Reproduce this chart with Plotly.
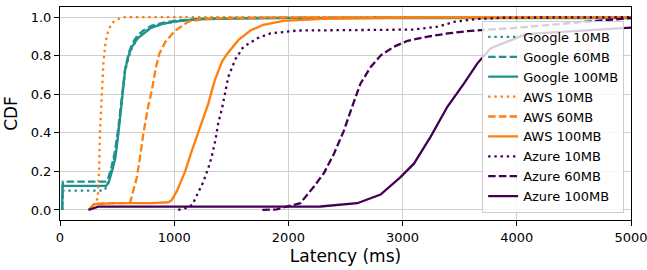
import plotly.graph_objects as go

# ---- data (latency in ms, CDF) ----
google_10_x = [20, 25, 100, 200, 300, 386, 420, 450, 480, 510, 540, 570, 600, 630, 680, 730, 800, 900, 1000, 1200, 1500, 2000, 3000, 5000]
google_10_y = [0, 0.10, 0.10, 0.10, 0.10, 0.10, 0.13, 0.20, 0.28, 0.40, 0.57, 0.72, 0.79, 0.84, 0.89, 0.92, 0.945, 0.965, 0.975, 0.99, 0.995, 0.997, 0.998, 0.998]

google_60_x = [20, 25, 400, 420, 450, 480, 510, 540, 570, 600, 630, 680, 730, 800, 900, 1000, 1200, 1500, 2000, 5000]
google_60_y = [0, 0.147, 0.147, 0.16, 0.22, 0.30, 0.42, 0.58, 0.73, 0.81, 0.86, 0.905, 0.93, 0.955, 0.97, 0.98, 0.99, 0.994, 0.996, 0.997]

google_100_x = [18, 22, 405, 430, 460, 485, 512, 541, 570, 600, 630, 680, 730, 800, 900, 1000, 1200, 1500, 2000, 5000]
google_100_y = [0, 0.125, 0.125, 0.15, 0.21, 0.27, 0.40, 0.57, 0.725, 0.80, 0.845, 0.89, 0.915, 0.945, 0.965, 0.976, 0.988, 0.992, 0.994, 0.995]

aws_10_x = [250, 300, 330, 342, 350, 358, 366, 380, 395, 409, 430, 453, 480, 512, 570, 5000]
aws_10_y = [0, 0.03, 0.06, 0.20, 0.40, 0.52, 0.60, 0.76, 0.85, 0.90, 0.94, 0.967, 0.98, 0.99, 1.0, 1.0]

aws_60_x = [250, 300, 400, 500, 600, 615, 643, 673, 700, 731, 770, 804, 840, 870, 921, 1009, 1125, 1272, 1500, 2000, 3000, 5000]
aws_60_y = [0, 0.03, 0.035, 0.035, 0.035, 0.04, 0.10, 0.17, 0.27, 0.40, 0.53, 0.62, 0.74, 0.81, 0.87, 0.93, 0.976, 0.99, 0.995, 0.998, 0.999, 1.0]

aws_100_x = [250, 300, 500, 800, 950, 980, 1025, 1096, 1150, 1210, 1250, 1298, 1330, 1360, 1420, 1465, 1561, 1667, 1780, 1956, 2300, 3000, 4000, 5000]
aws_100_y = [0, 0.03, 0.035, 0.035, 0.04, 0.052, 0.10, 0.20, 0.30, 0.40, 0.47, 0.55, 0.62, 0.68, 0.77, 0.81, 0.88, 0.93, 0.96, 0.98, 0.99, 0.997, 0.999, 1.0]

azure_10_x = [1035, 1100, 1158, 1200, 1255, 1300, 1330, 1360, 1386, 1420, 1474, 1535, 1605, 1728, 1842, 2079, 2500, 3100, 3307, 3450, 3660, 3900, 5000]
azure_10_y = [0, 0.01, 0.026, 0.078, 0.145, 0.22, 0.28, 0.36, 0.45, 0.53, 0.69, 0.78, 0.845, 0.89, 0.915, 0.93, 0.932, 0.935, 0.95, 0.975, 0.99, 0.997, 0.999]

azure_60_x = [1772, 1900, 1974, 2061, 2105, 2222, 2310, 2398, 2485, 2558, 2632, 2719, 2807, 2924, 3044, 3219, 3395, 3570, 3970, 4500, 5000]
azure_60_y = [0, 0.003, 0.016, 0.03, 0.035, 0.12, 0.19, 0.29, 0.41, 0.535, 0.656, 0.74, 0.80, 0.846, 0.877, 0.898, 0.915, 0.927, 0.943, 0.97, 0.995]

azure_100_x = [250, 333, 1000, 1930, 2280, 2603, 2807, 2982, 3099, 3246, 3392, 3538, 3655, 3772, 3918, 4064, 4181, 4620, 5000]
azure_100_y = [0, 0.017, 0.017, 0.017, 0.018, 0.035, 0.08, 0.17, 0.24, 0.38, 0.535, 0.656, 0.76, 0.838, 0.872, 0.907, 0.915, 0.93, 0.945]

x_ticks = [0, 1000, 2000, 3000, 4000, 5000]
y_ticks = [0.0, 0.2, 0.4, 0.6, 0.8, 1.0]

TEAL = "#21918c"
ORANGE = "#ff7f0e"
PURPLE = "#440154"
DOT = "2.4px,3.8px"
DASH = "7.5px,3.2px"

series = [
    ("Google 10MB", google_10_x, google_10_y, TEAL, DOT),
    ("Google 60MB", google_60_x, google_60_y, TEAL, DASH),
    ("Google 100MB", google_100_x, google_100_y, TEAL, "solid"),
    ("AWS 10MB", aws_10_x, aws_10_y, ORANGE, DOT),
    ("AWS 60MB", aws_60_x, aws_60_y, ORANGE, DASH),
    ("AWS 100MB", aws_100_x, aws_100_y, ORANGE, "solid"),
    ("Azure 10MB", azure_10_x, azure_10_y, PURPLE, DOT),
    ("Azure 60MB", azure_60_x, azure_60_y, PURPLE, DASH),
    ("Azure 100MB", azure_100_x, azure_100_y, PURPLE, "solid"),
]

fig = go.Figure()
for name, xs, ys, color, dash in series:
    fig.add_trace(go.Scatter(
        x=xs, y=ys, mode="lines", name=name,
        line=dict(color=color, width=2.3, dash=dash),
    ))

FONT = "DejaVu Sans"
fig.update_layout(
    width=647, height=270,
    margin=dict(l=60, r=16, t=7, b=50),
    paper_bgcolor="white", plot_bgcolor="white",
    font=dict(family=FONT, size=13, color="black"),
    showlegend=True,
    legend=dict(
        x=0.988, xanchor="right", y=0.033, yanchor="bottom",
        bgcolor="rgba(255,255,255,0.8)", bordercolor="#cccccc", borderwidth=1,
        font=dict(family=FONT, size=13, color="black"),
        traceorder="normal",
    ),
)
axis_common = dict(
    showline=True, linecolor="black", linewidth=1, mirror=True,
    ticks="outside", ticklen=5, tickcolor="black", tickwidth=1,
    showgrid=True, gridcolor="#cfcfcf", gridwidth=1, zeroline=False,
    tickfont=dict(family=FONT, size=13, color="black"),
    ticklabeloverflow="allow", automargin=False,
)
fig.update_xaxes(range=[0, 5000], tickvals=x_ticks, ticktext=[str(v) for v in x_ticks],
                 title=dict(text="Latency (ms)", font=dict(family=FONT, size=17), standoff=6),
                 **axis_common)
fig.update_yaxes(range=[-0.052, 1.052], tickvals=y_ticks, ticktext=[f"{v:.1f}" for v in y_ticks],
                 title=dict(text="CDF", font=dict(family=FONT, size=17), standoff=8),
                 **axis_common)

fig.write_html("out.html", config={"displayModeBar": False},
               post_script="document.body.style.margin='0';document.body.style.overflow='hidden';")
